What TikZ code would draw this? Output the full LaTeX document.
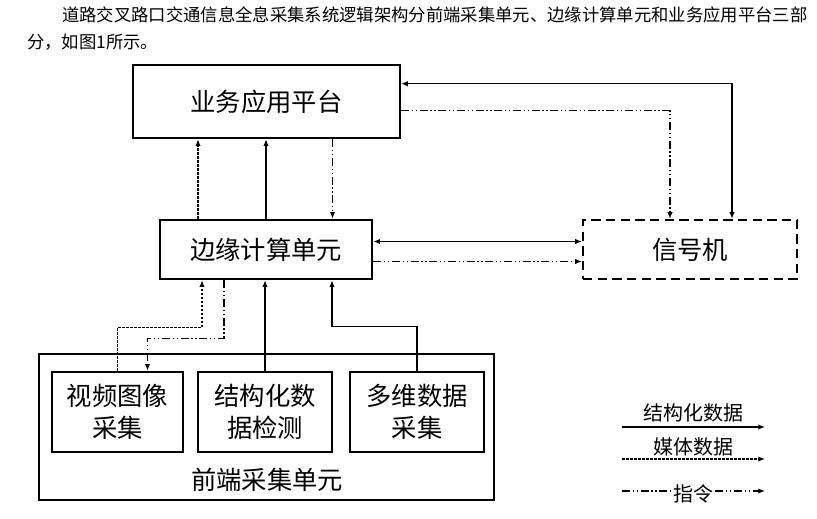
\documentclass[tikz,border=0pt]{standalone}
\usepackage{fontspec}
\setmainfont{Noto Sans CJK SC}
\usetikzlibrary{arrows.meta,calc}

\begin{document}
\begin{tikzpicture}[x=0.75pt, y=-0.75pt,
  unit/.style={draw, line width=1.9pt, align=center, inner sep=0pt,
    font=\fontsize{19}{24}\selectfont},
  sigbox/.style={unit, line width=1.7pt, dash pattern=on 7pt off 4pt},
  data/.style={line width=0.9pt, -{Latex[length=5pt,width=4pt]}},
  media/.style={data, dash pattern=on 2pt off 1pt},
  cmd/.style={data, dash pattern=on 6pt off 2pt on 1pt off 2pt on 1pt off 2pt},
  lgd/.style={font=\fontsize{15}{18}\selectfont, inner sep=1pt}]
\useasboundingbox (0,0) rectangle (817,518);

% header text
\node[anchor=west, inner sep=0pt, font=\fontsize{13}{16}\selectfont] (head1) at (62,15)
  {道路交叉路口交通信息全息采集系统逻辑架构分前端采集单元、边缘计算单元和业务应用平台三部};
\node[anchor=west, inner sep=0pt, font=\fontsize{13}{16}\selectfont] (head2) at (27,42)
  {分，如图1所示。};

% boxes
\node[unit, minimum width=200pt, minimum height=54.75pt] (platform) at (266.5,101.5) {业务应用平台};
\node[unit, minimum width=159pt, minimum height=44.25pt] (edge) at (266,249.5) {边缘计算单元};
\node[sigbox, minimum width=160.5pt, minimum height=44.25pt] (signal) at (690,249.5) {信号机};
\node[draw, line width=1.9pt, minimum width=341.25pt, minimum height=109.5pt] (front) at (266.5,427) {};
\node[font=\fontsize{19}{24}\selectfont, inner sep=0pt] (frontlbl) at (267,480) {前端采集单元};
\node[unit, minimum width=98.25pt, minimum height=60pt] (video) at (117.5,412) {视频图像\\采集};
\node[unit, minimum width=100.5pt, minimum height=60pt] (struct) at (265,412) {结构化数\\据检测};
\node[unit, minimum width=100.5pt, minimum height=60pt] (multi) at (417,412) {多维数据\\采集};

% edge <-> platform
\coordinate (m1) at ($(edge.north)+(-68,0)$);
\draw[media] (m1) -- (m1 |- platform.south);
\draw[data] (edge.north) -- (edge.north |- platform.south);
\coordinate (c1) at ($(platform.south)+(66,0)$);
\draw[cmd] (c1) -- (c1 |- edge.north);

% platform <-> signal
\coordinate (s1) at ($(platform.north east)+(0,20)$);
\coordinate (s2) at ($(signal.north)+(42,0)$);
\draw[data, {Latex[length=5pt,width=4pt]}-{Latex[length=5pt,width=4pt]}] (s1) -| (s2);
\coordinate (c2) at ($(platform.north east)+(0,47)$);
\coordinate (c3) at ($(signal.north)+(-20,0)$);
\draw[cmd] (c2) -| (c3);

% edge <-> signal
\coordinate (s3) at ($(edge.east)+(0,-8)$);
\draw[data, {Latex[length=5pt,width=4pt]}-{Latex[length=5pt,width=4pt]}] (s3) -- (s3 -| signal.west);
\coordinate (c4) at ($(edge.east)+(0,12)$);
\draw[cmd] (c4) -- (c4 -| signal.west);

% front end -> edge
\coordinate (m2) at ($(edge.south)+(-64,0)$);
\draw[media] (video.north) |- ($(m2)+(0,47)$) -- (m2);
\coordinate (c5) at ($(edge.south)+(-42,0)$);
\draw[cmd] (c5) -- ++(0,58) -| ($(video.north)+(30,0)$);
\draw[data] (struct.north) -- (struct.north |- edge.south);
\coordinate (s4) at ($(edge.south)+(66,0)$);
\draw[data] (multi.north) |- ($(s4)+(0,46)$) -- (s4);

% legend
\draw[data] (622,427) -- (765,427) node[lgd, midway, above=2pt] (lstruct) {结构化数据};
\draw[media] (622,459) -- (765,459) node[lgd, midway, above=1pt] (lmedia) {媒体数据};
\draw[cmd] (622,491) -- (765,491) node[lgd, midway, fill=white, yshift=-2pt] (lcmd) {指令};
\end{tikzpicture}
\end{document}
